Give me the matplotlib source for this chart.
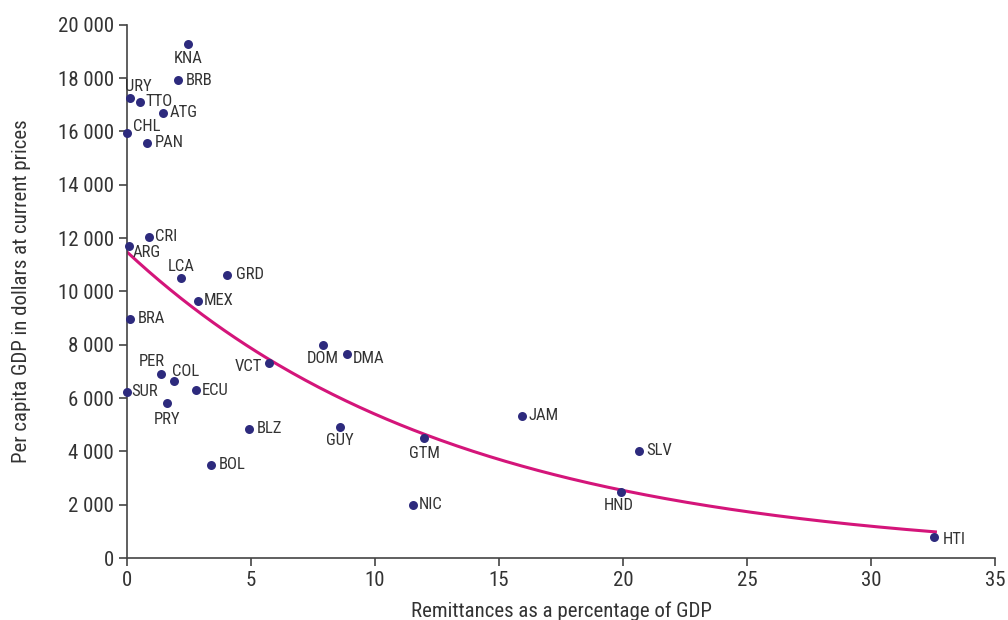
import numpy as np
import matplotlib
matplotlib.use("Agg")
import matplotlib.pyplot as plt
from matplotlib import font_manager
from matplotlib.ticker import FuncFormatter, MultipleLocator

# remittances (% of GDP) vs per capita GDP (current US$)
countries = ["KNA", "BRB", "URY", "TTO", "ATG", "CHL", "PAN", "CRI", "ARG", "LCA",
             "GRD", "MEX", "BRA", "DOM", "DMA", "VCT", "PER", "COL", "SUR", "ECU",
             "PRY", "BLZ", "GUY", "BOL", "JAM", "GTM", "SLV", "NIC", "HND", "HTI"]
remit = [2.46, 2.06, 0.12, 0.52, 1.45, 0.0, 0.81, 0.89, 0.08, 2.18,
         4.03, 2.86, 0.12, 7.90, 8.87, 5.73, 1.37, 1.90, 0.0, 2.78,
         1.61, 4.92, 8.59, 3.39, 15.93, 11.98, 20.65, 11.53, 19.92, 32.54]
gdp_pc = [19290, 17940, 17260, 17110, 16700, 15950, 15570, 12050, 11710, 10510,
          10620, 9640, 8970, 7990, 7650, 7320, 6900, 6640, 6230, 6300,
          5820, 4840, 4920, 3490, 5330, 4500, 4020, 1990, 2480, 790]

# exponential trend y = a * exp(b * x)
trend_a = 11480
trend_b = -0.0755
trend_xmax = 32.6

# label placement: (dx, dy) in points, horizontal alignment
label_pos = {
    "KNA": (0, -10.5, "center"), "BRB": (5.5, -0.5, "left"), "URY": (-3.5, 8, "left"),
    "TTO": (4, 0, "left"), "ATG": (4.5, 0, "left"), "CHL": (4.5, 4.5, "left"),
    "PAN": (5.5, 0, "left"), "CRI": (4.5, 0.5, "left"), "ARG": (3, -5, "left"),
    "LCA": (0, 8, "center"), "GRD": (6.5, 0, "left"), "MEX": (4.5, 0, "left"),
    "BRA": (5.5, 0, "left"), "DOM": (0, -10, "center"), "DMA": (4.5, -3, "left"),
    "VCT": (-5, -2.5, "right"), "PER": (-6.5, 9, "center"), "COL": (-1.5, 6.5, "left"),
    "SUR": (3, 0, "left"), "ECU": (4.5, 0, "left"), "PRY": (0, -12, "center"),
    "BLZ": (5.5, 0, "left"), "GUY": (0, -9.5, "center"), "BOL": (5.5, 0, "left"),
    "JAM": (4.5, 0, "left"), "GTM": (0, -11, "center"), "SLV": (5.5, 0, "left"),
    "NIC": (4.5, 0, "left"), "HND": (-1.5, -10, "center"), "HTI": (6.5, -1.5, "left"),
}

available = {f.name for f in font_manager.fontManager.ttflist}
family = [f for f in ["Roboto Condensed", "Liberation Sans Narrow", "Roboto", "DejaVu Sans"]
          if f in available]
plt.rcParams["font.family"] = family

dot_color = "#2d2a7d"
line_color = "#d4157a"
text_color = "#333333"

fig = plt.figure(figsize=(10.08, 6.2), dpi=100)
ax = fig.add_axes([0.126, 0.1, 0.861, 0.86])

xs = np.linspace(0, trend_xmax, 300)
ax.plot(xs, trend_a * np.exp(trend_b * xs), color=line_color, lw=2.2, zorder=2)
ax.scatter(remit, gdp_pc, s=42, color=dot_color, zorder=3, clip_on=False, lw=0)

for name, x, y in zip(countries, remit, gdp_pc):
    dx, dy, ha = label_pos[name]
    ax.annotate(name, (x, y), xytext=(dx, dy), textcoords="offset points",
                ha=ha, va="center", fontsize=12, color=text_color)

ax.set_xlim(0, 35)
ax.set_ylim(0, 20000)
ax.xaxis.set_major_locator(MultipleLocator(5))
ax.yaxis.set_major_locator(MultipleLocator(2000))
ax.yaxis.set_major_formatter(FuncFormatter(lambda v, p: f"{int(v):,}".replace(",", " ")))

for side in ["top", "right"]:
    ax.spines[side].set_visible(False)
for side in ["left", "bottom"]:
    ax.spines[side].set_color("#444444")
    ax.spines[side].set_linewidth(1.2)
ax.tick_params(colors="#444444", labelcolor=text_color, labelsize=15, length=6, width=1.2)

ax.set_xlabel("Remittances as a percentage of GDP", fontsize=15, color=text_color, labelpad=8)
ax.set_ylabel("Per capita GDP in dollars at current prices", fontsize=15, color=text_color, labelpad=19)

fig.savefig("out.png", dpi=100)
